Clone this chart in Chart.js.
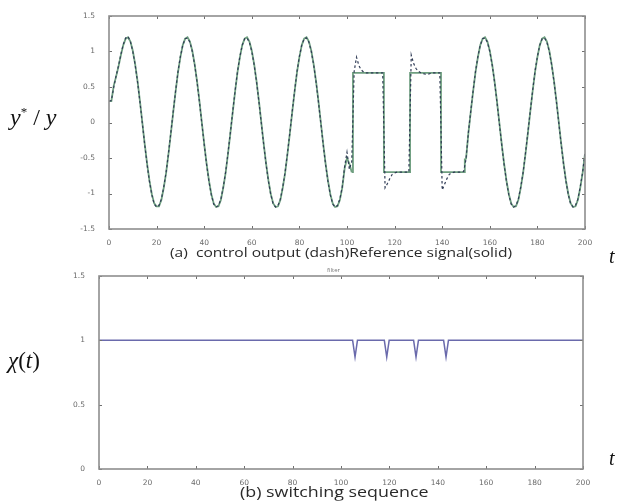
<!DOCTYPE html>
<html><head><meta charset="utf-8">
<script src="https://cdn.jsdelivr.net/npm/chart.js@4"></script>
<style>
html,body{margin:0;padding:0;background:#fff;width:617px;height:504px;overflow:hidden;}
canvas{position:absolute;left:0;top:0;}
.lbl{position:absolute;white-space:nowrap;line-height:1;transform-origin:0 50%;}
.serif{font-family:"Liberation Serif","DejaVu Serif",serif;color:#111;}
.sans{font-family:"Open Sans","DejaVu Sans",sans-serif;color:#2a2a2a;}
</style></head><body>
<canvas id="c1" width="617" height="504"></canvas>
<canvas id="c2" width="617" height="504"></canvas>
<div class="lbl serif" style="left:10px;top:117px;font-size:24px;transform:translateY(-50%);"><i>y</i><sup style="font-size:13px;vertical-align:9px;">*</sup> / <i>y</i></div>
<div class="lbl sans" style="left:170px;top:253px;font-size:13.5px;transform:translateY(-50%) scaleX(1.155);">(a)&nbsp; control output (dash)Reference signal(solid)</div>
<div class="lbl serif" style="left:609px;top:256px;font-size:20px;transform:translateY(-50%);"><i>t</i></div>
<div class="lbl sans" style="left:327px;top:270px;font-size:6px;color:#777;transform:translateY(-50%);">filter</div>
<div class="lbl serif" style="left:8px;top:360px;font-size:23px;transform:translateY(-50%);"><i>χ</i>(<i>t</i>)</div>
<div class="lbl serif" style="left:609px;top:458px;font-size:20px;transform:translateY(-50%);"><i>t</i></div>
<div class="lbl sans" style="left:240px;top:491px;font-size:15px;transform:translateY(-50%) scaleX(1.19);">(b) switching sequence</div>
<script>
// ---------- data ----------
const xTicks = [0, 20, 40, 60, 80, 100, 120, 140, 160, 180, 200];
const yTicksTop = [-1.5, -1, -0.5, 0, 0.5, 1, 1.5];
const yTicksBottom = [0, 0.5, 1, 1.5];

// reference signal, sinusoid part, t = 0..102
const refPart1 = [
 0.30, 0.30, 0.52, 0.65, 0.79, 0.95, 1.09, 1.18, 1.20, 1.14, 1.01, 0.82, 0.58, 0.30, 0.00, -0.30, -0.58, -0.82, -1.01, -1.14, -1.18, -1.18, -1.09, -0.92, -0.71,
 -0.44, -0.15, 0.15, 0.44, 0.71, 0.92, 1.09, 1.18, 1.20, 1.14, 1.01, 0.82, 0.58, 0.30, 0.00, -0.30, -0.58, -0.82, -1.01, -1.14, -1.19, -1.18, -1.09, -0.92, -0.71,
 -0.44, -0.15, 0.15, 0.44, 0.71, 0.92, 1.09, 1.18, 1.20, 1.14, 1.01, 0.82, 0.58, 0.30, 0.00, -0.30, -0.58, -0.82, -1.01, -1.14, -1.19, -1.18, -1.09, -0.92, -0.71,
 -0.44, -0.15, 0.15, 0.44, 0.71, 0.92, 1.09, 1.18, 1.20, 1.14, 1.01, 0.82, 0.58, 0.30, 0.00, -0.30, -0.58, -0.82, -1.01, -1.14, -1.19, -1.18, -1.09, -0.92, -0.65,
 -0.50, -0.58, -0.70
];
// reference signal, square part
const switchTimes = [102.5, 115.5, 126.5, 139.5, 149.5];
const squareLevels = [0.7, -0.7, 0.7, -0.7];
// reference signal, sinusoid part, t = 150..200
const refPart2Start = 150;
const refPart2 = [
 -0.52,
 -0.15, 0.15, 0.44, 0.71, 0.92, 1.09, 1.18, 1.20, 1.14, 1.01, 0.82, 0.58, 0.30, 0.00, -0.30, -0.58, -0.82, -1.01, -1.14, -1.19, -1.18, -1.09, -0.92, -0.71,
 -0.44, -0.15, 0.15, 0.44, 0.71, 0.92, 1.09, 1.18, 1.20, 1.14, 1.01, 0.82, 0.58, 0.30, 0.00, -0.30, -0.58, -0.82, -1.01, -1.14, -1.19, -1.18, -1.09, -0.92, -0.71,
 -0.44
];
// control output, t = 0..200
const controlOutput = [
 0.30, 0.31, 0.50, 0.66, 0.80, 0.96, 1.10, 1.19, 1.21, 1.14, 1.00, 0.81, 0.57, 0.29, -0.01, -0.31, -0.59, -0.83, -1.02, -1.15, -1.19, -1.17, -1.08, -0.91, -0.70,
 -0.43, -0.14, 0.16, 0.45, 0.72, 0.93, 1.09, 1.18, 1.19, 1.13, 1.00, 0.81, 0.57, 0.29, -0.01, -0.31, -0.59, -0.83, -1.02, -1.15, -1.19, -1.17, -1.08, -0.91, -0.70,
 -0.43, -0.14, 0.16, 0.45, 0.72, 0.93, 1.09, 1.18, 1.19, 1.13, 1.00, 0.81, 0.57, 0.29, -0.01, -0.31, -0.59, -0.83, -1.02, -1.15, -1.19, -1.17, -1.08, -0.91, -0.70,
 -0.43, -0.14, 0.16, 0.45, 0.72, 0.93, 1.09, 1.18, 1.19, 1.13, 1.00, 0.81, 0.57, 0.29, -0.01, -0.31, -0.59, -0.83, -1.02, -1.15, -1.19, -1.17, -1.08, -0.91,
 -0.62, -0.42, -0.66, -0.55,
 0.72, 0.92, 0.80, 0.74, 0.71, 0.70, 0.70, 0.70, 0.70, 0.70, 0.70, 0.70, 0.70,
 -0.92, -0.86, -0.79, -0.73, -0.71, -0.70, -0.70, -0.70, -0.70, -0.70, -0.70,
 0.95, 0.83, 0.76, 0.72, 0.70, 0.69, 0.68, 0.68, 0.69, 0.70, 0.70, 0.70, 0.70,
 -0.95, -0.87, -0.79, -0.73, -0.71, -0.70, -0.70, -0.70, -0.70, -0.69, -0.52,
 -0.14, 0.16, 0.45, 0.72, 0.93, 1.09, 1.18, 1.19, 1.13, 1.00, 0.81, 0.57, 0.29, -0.01, -0.31, -0.59, -0.83, -1.02, -1.15, -1.19, -1.17, -1.08, -0.91, -0.70,
 -0.43, -0.14, 0.16, 0.45, 0.72, 0.93, 1.09, 1.18, 1.19, 1.13, 1.00, 0.81, 0.57, 0.29, -0.01, -0.31, -0.59, -0.83, -1.02, -1.15, -1.19, -1.17, -1.08, -0.91, -0.70,
 -0.43
];
// switching sequence chi(t)
const chiTime  = [0, 104.8, 105.8, 106.8, 117.9, 118.9, 119.9, 130.0, 131.0, 132.0, 142.4, 143.4, 144.4, 200];
const chiValue = [1, 1, 0.87, 1, 1, 0.87, 1, 1, 0.87, 1, 1, 0.87, 1, 1];

// ---------- build ----------
Chart.defaults.font.family = '"DejaVu Sans", sans-serif';
const ref1Pts = refPart1.map((v, i) => ({x: i, y: v}));
const lastT = refPart1.length - 1, lastV = refPart1[lastT];
const sqPts = [{x: lastT, y: lastV}, {x: switchTimes[0], y: lastV}];
for (let i = 0; i < squareLevels.length; i++) sqPts.push({x: switchTimes[i + 1], y: squareLevels[i]});
sqPts.push({x: refPart2Start, y: refPart2[0]});
const ref2Pts = refPart2.map((v, i) => ({x: refPart2Start + i, y: v}));
const outPts = controlOutput.map((v, i) => ({x: i, y: v}));
const chiPts = chiTime.map((t, i) => ({x: t, y: chiValue[i]}));

const boxPlugin = {
  id: 'box',
  afterDraw(chart) {
    const {ctx, chartArea: a, scales: {x, y}} = chart;
    ctx.save();
    ctx.strokeStyle = '#6f6f6f'; ctx.lineWidth = 1;
    const L = 3;
    ctx.beginPath();
    x.ticks.forEach(t => { const p = Math.round(x.getPixelForValue(t.value)) + 0.5;
      ctx.moveTo(p, a.top); ctx.lineTo(p, a.top + L); ctx.moveTo(p, a.bottom); ctx.lineTo(p, a.bottom - L); });
    y.ticks.forEach(t => { const p = Math.round(y.getPixelForValue(t.value)) + 0.5;
      ctx.moveTo(a.left, p); ctx.lineTo(a.left + L, p); ctx.moveTo(a.right, p); ctx.lineTo(a.right - L, p); });
    ctx.stroke();
    ctx.strokeStyle = '#8e8e8e'; ctx.lineWidth = 1.6;
    ctx.strokeRect(a.left, a.top, a.right - a.left, a.bottom - a.top);
    ctx.restore();
  }
};

function scales(yMin, yMax, yTickVals, yWidth) {
  const tickFont = {size: 7.5};
  return {
    x: {type: 'linear', min: 0, max: 200,
        afterBuildTicks: s => { s.ticks = xTicks.map(v => ({value: v})); },
        grid: {display: false}, border: {display: false},
        ticks: {font: tickFont, color: '#6a6a6a', padding: 2, maxRotation: 0, autoSkip: false, callback: v => String(v)},
        afterFit: s => { s.height = 20; }},
    y: {type: 'linear', min: yMin, max: yMax,
        afterBuildTicks: s => { s.ticks = yTickVals.map(v => ({value: v})); },
        grid: {display: false}, border: {display: false},
        ticks: {font: tickFont, color: '#6a6a6a', padding: 6, autoSkip: false, callback: v => String(v)},
        afterFit: s => { s.width = yWidth; }}
  };
}

const common = {
  responsive: false, animation: false, devicePixelRatio: 1,
  plugins: {legend: {display: false}, tooltip: {enabled: false}},
  elements: {point: {radius: 0}, line: {tension: 0}}
};

const refStyle = {borderColor: '#6f9f80', borderWidth: 1.8, fill: false, pointRadius: 0};
new Chart(document.getElementById('c1'), {
  type: 'line',
  data: {datasets: [
    {label: 'control output', data: outPts, borderColor: '#2f3b55', borderWidth: 1.2, borderDash: [2.5, 2.5], fill: false, pointRadius: 0},
    Object.assign({label: 'reference 1', data: ref1Pts}, refStyle),
    Object.assign({label: 'reference square', data: sqPts, stepped: 'after'}, refStyle),
    Object.assign({label: 'reference 2', data: ref2Pts}, refStyle)
  ]},
  options: Object.assign({}, common, {
    layout: {padding: {left: 0, right: 32, top: 16, bottom: 255}},
    scales: scales(-1.5, 1.5, yTicksTop, 109)
  }),
  plugins: [boxPlugin]
});

new Chart(document.getElementById('c2'), {
  type: 'line',
  data: {datasets: [
    {label: 'chi', data: chiPts, borderColor: '#6a6aac', borderWidth: 1.5, fill: false, pointRadius: 0}
  ]},
  options: Object.assign({}, common, {
    layout: {padding: {left: 0, right: 34, top: 276, bottom: 15}},
    scales: scales(0, 1.5, yTicksBottom, 99)
  }),
  plugins: [boxPlugin]
});
</script>
</body></html>
